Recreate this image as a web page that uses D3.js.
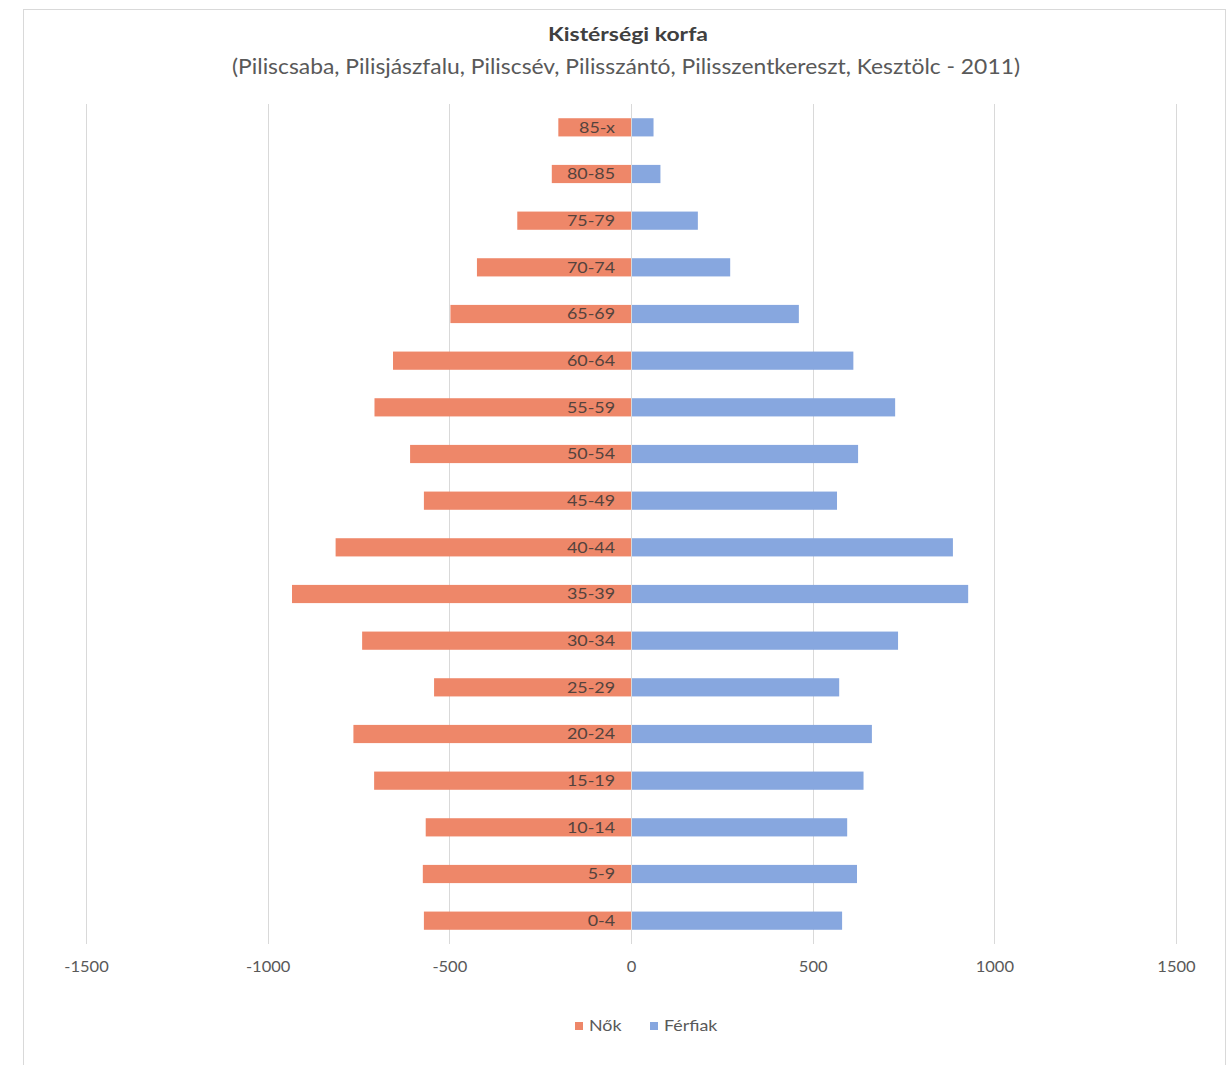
<!DOCTYPE html>
<html>
<head>
<meta charset="utf-8">
<script src="https://cdn.jsdelivr.net/npm/d3@7"></script>
<style>
html,body{margin:0;padding:0;background:#fff;}
svg{display:block;}
</style>
</head>
<body>
<svg id="chart" width="1227" height="1065"></svg>
<script>
const categories = ["85-x","80-85","75-79","70-74","65-69","60-64","55-59","50-54","45-49","40-44","35-39","30-34","25-29","20-24","15-19","10-14","5-9","0-4"];
const women = [-200,-218,-313,-424,-497,-655,-706,-608,-570,-813,-933,-740,-542,-764,-707,-565,-573,-570];
const men = [62,81,184,273,462,612,727,625,567,886,928,735,573,663,640,595,622,581];
const tickValues = [-1500,-1000,-500,0,500,1000,1500];
const seriesNames = ["Nők","Férfiak"];
const colors = ["#EE8769","#87A7DF"];

const svg = d3.select("#chart");
const font = "Lato, 'Open Sans', 'Noto Sans', sans-serif";

// horizontal stretch of text (reference image is widened)
function stretch(sel, f){
  sel.each(function(){
    const len = this.getComputedTextLength();
    d3.select(this).attr("textLength", len*f).attr("lengthAdjust","spacingAndGlyphs");
  });
}

// chart border
svg.append("rect").attr("x",23.5).attr("y",9.5).attr("width",1202).attr("height",1060)
  .attr("fill","#fff").attr("stroke","#d9d9d9").attr("stroke-width",1);

const x = d3.scaleLinear().domain([-1500,1500]).range([86,1176]);
const y = d3.scaleBand().domain(categories).range([104,944]).paddingInner(0.61).paddingOuter(0.305);

// gridlines
svg.append("g").selectAll("line").data(tickValues).join("line")
  .attr("x1",d=>Math.round(x(d))+0.5).attr("x2",d=>Math.round(x(d))+0.5)
  .attr("y1",104).attr("y2",944)
  .attr("stroke","#d9d9d9").attr("stroke-width",1);

// bars
const g = svg.append("g");
g.selectAll("rect.w").data(categories).join("rect").attr("class","w")
  .attr("x",(d,i)=>x(women[i])).attr("width",(d,i)=>x(0)-x(women[i]))
  .attr("y",d=>y(d)).attr("height",y.bandwidth()).attr("fill",colors[0]);
g.selectAll("rect.m").data(categories).join("rect").attr("class","m")
  .attr("x",x(0)+1).attr("width",(d,i)=>x(men[i])-x(0)-1)
  .attr("y",d=>y(d)).attr("height",y.bandwidth()).attr("fill",colors[1]);

// category labels (y axis)
const yAxis = d3.axisLeft(y).tickSize(0).tickPadding(0);
const ya = svg.append("g").attr("transform",`translate(${x(0)-16},0)`).call(yAxis);
ya.select(".domain").remove();
ya.selectAll("text").attr("font-family",font).attr("font-size",15).attr("fill","#54433d").attr("dy","0.36em")
  .call(stretch,1.19);

// x axis labels
const xAxis = d3.axisBottom(x).tickValues(tickValues).tickSize(0).tickPadding(0).tickFormat(d3.format("d"));
const xa = svg.append("g").attr("transform","translate(0,961)").call(xAxis);
xa.select(".domain").remove();
xa.selectAll("text").attr("font-family",font).attr("font-size",15).attr("fill","#595959").attr("dy","0.71em")
  .text(d=> d<0 ? "-"+Math.abs(d) : d)
  .call(stretch,1.1);

// title
svg.append("text").attr("x",628).attr("y",41).attr("text-anchor","middle")
  .attr("font-family",font).attr("font-size",19).attr("font-weight","bold").attr("fill","#404040")
  .attr("textLength",160).attr("lengthAdjust","spacingAndGlyphs")
  .text("Kistérségi korfa");
svg.append("text").attr("x",626).attr("y",74).attr("text-anchor","middle")
  .attr("font-family",font).attr("font-size",21).attr("fill","#595959")
  .attr("textLength",788).attr("lengthAdjust","spacingAndGlyphs")
  .text("(Piliscsaba, Pilisjászfalu, Piliscsév, Pilisszántó, Pilisszentkereszt, Kesztölc - 2011)");

// legend
const legendX = [575, 650];
const lg = svg.append("g");
seriesNames.forEach((n,i)=>{
  lg.append("rect").attr("x",legendX[i]).attr("y",1022).attr("width",8).attr("height",8).attr("fill",colors[i]);
  lg.append("text").attr("x",legendX[i]+14).attr("y",1031).attr("font-family",font).attr("font-size",15)
    .attr("fill","#595959").text(n).call(stretch,1.19);
});
</script>
</body>
</html>
